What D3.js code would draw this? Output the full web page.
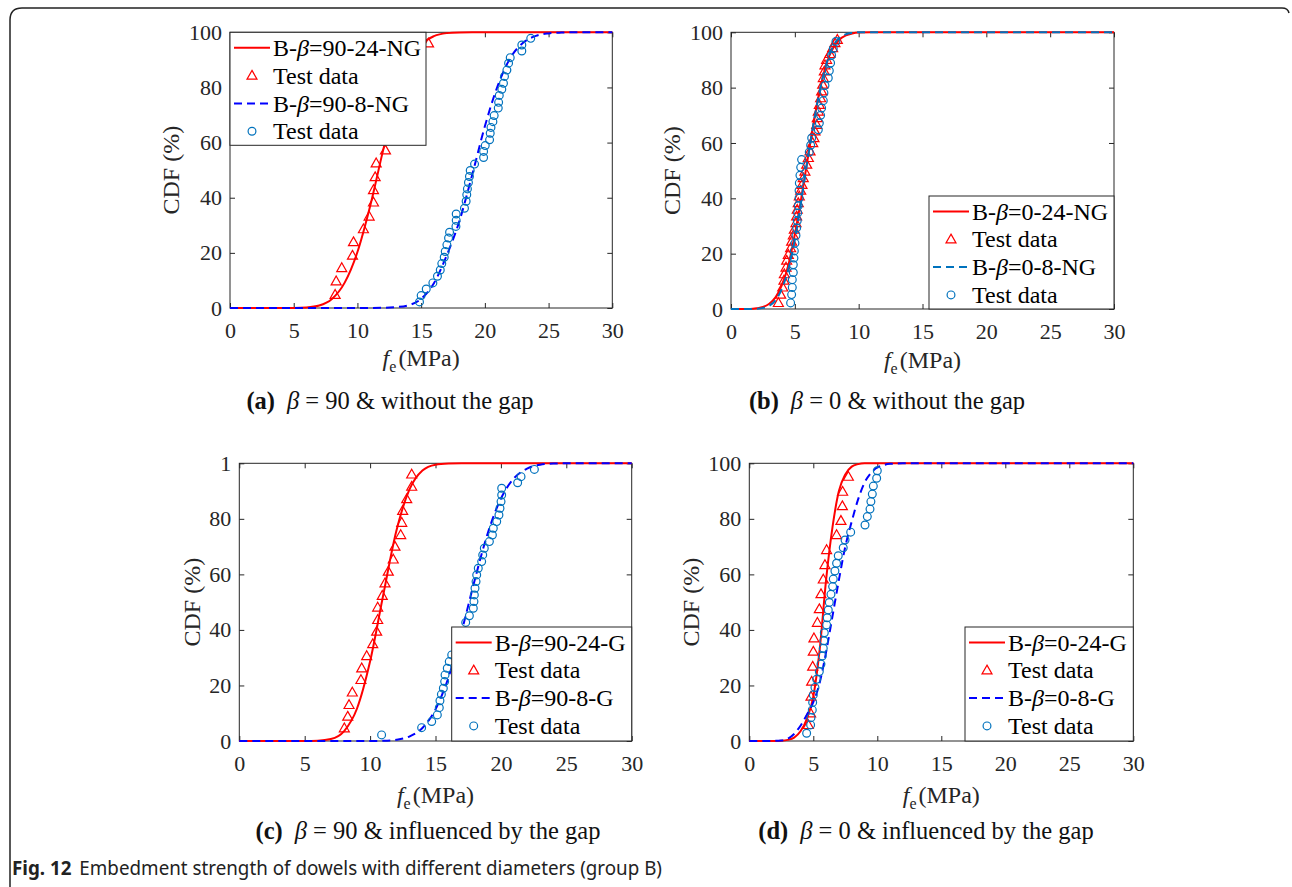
<!DOCTYPE html>
<html><head><meta charset="utf-8">
<script src="https://cdn.jsdelivr.net/npm/d3@7"></script>
<style>body{margin:0;background:#fff;} svg{display:block;}</style>
</head><body>
<script>
// ---------------- DATA ----------------
const xTicks = [0, 5, 10, 15, 20, 25, 30];
const yTicks = [0, 20, 40, 60, 80, 100];
const yTickLabels = ["0", "20", "40", "60", "80", "100"];
const yTickLabelsC = ["0", "20", "40", "60", "80", "1"];

// (a) beta = 90, no gap
const fitA24 = [[0,0],[5,0.03],[6,0.2],[7,0.9],[8,3.3],[9,9.2],[10,20.3],[11,37],[12,56.9],[13,75.3],[14,88.3],[15,95.5],[16,98.6],[17,99.7],[18,99.95],[19,100],[30,100]];
const fitA8 = [[0,0],[12,0.05],[13,0.3],[14,1.0],[15,3.3],[16,9],[17,19],[18,31.5],[19,48.2],[20,65.9],[21,80.5],[22,90.7],[23,96.2],[24,98.7],[25,99.6],[26,99.9],[27,100],[30,100]];
const testA24 = [[8.25,4.8],[8.33,9.7],[8.77,14.5],[9.61,19.0],[9.69,23.9],[10.47,28.6],[10.92,33.2],[11.26,38.3],[11.26,42.8],[11.39,47.5],[11.47,52.5],[12.2,57.2],[15.58,96.0]];
const testA8 = [[14.87,2.2],[15.0,4.5],[15.4,6.9],[15.92,9.1],[16.28,11.5],[16.5,13.8],[16.62,16.1],[16.81,18.4],[16.89,20.5],[17.02,22.9],[17.15,25.4],[17.23,27.5],[17.73,29.6],[17.75,31.8],[17.75,34.1],[18.4,36.2],[18.53,38.7],[18.58,41.1],[18.63,43.2],[18.71,45.5],[18.79,47.7],[18.85,49.9],[19.19,52.2],[19.9,54.6],[19.9,56.8],[20.03,58.9],[20.37,61.0],[20.42,63.4],[20.48,65.5],[20.63,67.6],[20.73,69.8],[21.05,72.5],[21.08,74.6],[21.13,77.1],[21.33,79.3],[21.46,81.5],[21.54,84.0],[21.73,86.3],[21.86,88.8],[21.99,90.8],[22.9,93.2],[22.9,95.4],[23.6,97.8]];

// (b) beta = 0, no gap
const fitB24 = [[0,0],[1.5,0.02],[2,0.25],[2.5,0.7],[3,1.9],[3.5,4.3],[4,8.8],[4.5,16],[5,27],[5.5,40],[6,54],[6.5,68],[7,80],[7.5,89],[8,94.3],[8.5,97.4],[9,98.9],[9.5,99.6],[10,99.9],[11,100],[30,100]];
const fitB8 = [[0,0],[1.5,0.01],[2,0.1],[2.5,0.4],[3,1.2],[3.5,3.2],[4,7.5],[4.5,14.5],[5,25],[5.5,39],[6,54],[6.5,68],[7,80],[7.5,89],[8,95],[8.5,98],[9,99.3],[9.5,99.8],[10,100],[30,100]];
const testB24 = [[3.71,2.2],[3.89,5.2],[4.05,7.8],[4.15,10.3],[4.18,12.6],[4.31,15.0],[4.36,17.5],[4.49,19.6],[4.67,22.0],[4.75,24.4],[4.88,26.6],[4.96,28.7],[5.09,31.1],[5.14,33.5],[5.19,35.9],[5.27,38.3],[5.35,40.7],[5.46,42.8],[5.56,44.9],[5.66,47.3],[5.79,49.7],[5.93,52.2],[6.06,54.6],[6.19,57.0],[6.4,60.0],[6.5,61.8],[6.58,64.2],[6.71,66.6],[6.76,69.0],[6.84,71.4],[6.92,73.8],[7.02,76.2],[7.1,78.7],[7.18,81.1],[7.23,83.5],[7.31,85.9],[7.36,88.1],[7.49,90.1],[7.75,92.2],[7.96,94.3],[8.14,96.1],[8.33,97.3]];
const testB8 = [[4.67,2.2],[4.75,5.2],[4.8,7.8],[4.8,10.6],[4.88,13.2],[4.88,16.0],[4.93,18.4],[4.96,21.0],[5.01,23.8],[5.09,26.6],[5.14,29.3],[5.19,31.9],[5.22,34.7],[5.27,37.3],[5.33,40.1],[5.33,42.8],[5.35,45.5],[5.4,48.3],[5.46,51.2],[5.53,54.0],[6.13,56.7],[6.24,59.2],[6.32,61.8],[6.84,64.8],[6.92,67.2],[7.02,70.0],[7.1,72.6],[7.23,75.3],[7.28,78.1],[7.36,80.8],[7.62,83.5],[7.7,86.1],[7.8,88.9],[7.88,91.7],[8.01,94.1],[8.22,96.7]];

// (c) beta = 90, with gap
const fitC24 = [[0,0],[5,0.01],[6,0.1],[7,0.7],[8,3.5],[9,11.7],[10,28.7],[11,52.5],[12,75.5],[13,90.5],[14,97.4],[15,99.5],[16,99.9],[17,100],[30,100]];
const fitC8 = [[0,0],[10,0.02],[11,0.1],[12,0.45],[13,1.6],[14,4.7],[15,11.4],[16,23.0],[17,39.5],[18,58.0],[19,74.9],[20,87.3],[21,94.6],[22,98.1],[23,99.5],[24,99.9],[25,100],[30,100]];
const testC24 = [[8.03,4.6],[8.29,8.8],[8.39,13.0],[8.64,17.5],[9.3,22.0],[9.36,26.2],[9.74,30.6],[10.2,34.9],[10.5,39.4],[10.58,43.6],[10.58,48.1],[10.93,52.3],[11.14,56.8],[11.39,61.0],[11.77,65.4],[11.9,70.0],[12.34,74.2],[12.42,78.6],[12.49,82.9],[12.8,87.1],[13.18,91.6],[13.18,96.0]];
const testC8 = [[10.88,2.2],[13.94,4.8],[14.71,7.0],[15.14,9.4],[15.29,12.0],[15.34,14.5],[15.45,16.8],[15.6,19.0],[15.7,21.4],[15.73,23.8],[15.9,26.2],[16.05,28.6],[16.24,31.0],[17.31,42.7],[17.59,45.1],[17.89,47.8],[17.94,50.2],[17.97,52.6],[18.02,55.0],[18.1,57.4],[18.15,59.8],[18.27,62.2],[18.53,64.6],[18.61,67.0],[18.73,69.4],[19.12,71.8],[19.35,74.2],[19.42,76.6],[19.68,79.0],[19.85,81.4],[19.93,83.8],[20.01,86.2],[20.06,88.6],[20.06,91.0],[21.28,93.0],[21.54,95.2],[22.56,97.8]];

// (d) beta = 0, with gap
const fitD24 = [[0,0],[2,0.02],[2.5,0.1],[3,0.4],[3.5,1.2],[4,3.5],[4.5,8],[5,16],[5.5,33],[6,58],[6.5,77],[7,90],[7.5,96],[8,98.8],[8.5,99.7],[9,100],[30,100]];
const fitD8 = [[0,0],[2,0.05],[2.5,0.2],[3,0.8],[3.5,2.5],[4,5.5],[4.5,9.5],[5,14],[5.5,21],[6,32],[6.5,45],[7,58],[7.5,70],[8,79],[8.5,87],[9,93],[9.5,96.5],[10,98.5],[10.5,99.4],[11,99.8],[12,100],[30,100]];
const testD24 = [[4.61,5.8],[4.79,10.0],[4.82,16.0],[4.87,21.4],[4.95,26.8],[5.0,32.2],[5.05,37.0],[5.32,42.6],[5.47,47.5],[5.6,52.9],[5.78,58.2],[5.91,63.4],[6.04,68.8],[6.82,74.2],[7.16,79.3],[7.27,84.6],[7.29,89.8],[7.74,95.2]];
const testD8 = [[4.48,2.8],[4.79,5.8],[4.82,8.4],[4.92,11.2],[4.95,13.9],[5.0,16.6],[5.13,19.3],[5.26,22.2],[5.47,25.0],[5.6,27.7],[5.7,30.6],[5.78,33.4],[5.83,36.1],[5.86,39.0],[6.04,41.8],[6.09,44.4],[6.17,47.2],[6.25,49.9],[6.38,52.8],[6.51,55.6],[6.56,58.3],[6.69,61.2],[6.82,64.0],[6.95,66.7],[7.34,69.6],[7.48,72.4],[7.92,75.2],[9.04,77.8],[9.22,80.8],[9.43,83.5],[9.5,86.2],[9.61,88.9],[9.69,91.8],[9.95,94.6],[10.0,97.3]];

const legendA = ["B-|β|=90-24-NG", "Test data", "B-|β|=90-8-NG", "Test data"];
const legendB = ["B-|β|=0-24-NG", "Test data", "B-|β|=0-8-NG", "Test data"];
const legendC = ["B-|β|=90-24-G", "Test data", "B-|β|=90-8-G", "Test data"];
const legendD = ["B-|β|=0-24-G", "Test data", "B-|β|=0-8-G", "Test data"];
const captionA = ["(a)", "β", " = 90 & without the gap"];
const captionB = ["(b)", "β", " = 0 & without the gap"];
const captionC = ["(c)", "β", " = 90 & influenced by the gap"];
const captionD = ["(d)", "β", " = 0 & influenced by the gap"];
const xTitle = ["f", "e", "(MPa)"];
const yTitle = "CDF (%)";
const figLabel = "Fig. 12";
const figText = "Embedment strength of dowels with different diameters (group B)";

// ---------------- STYLE / LAYOUT ----------------
const SERIF = "'Liberation Serif','Times New Roman',serif";
const AX = "#262626";
const RED = "#ff0000", BLUE = "#0000ff", MBLUE = "#0072BD";

const panels = [
  {left:230, right:612.3, top:32.3, bottom:308, fit1:fitA24, test1:testA24, fit2:fitA8, test2:testA8, dash2:BLUE, yl:yTickLabels,
   legend:legendA, lg:{x:230, y:32.3, w:196, h:113}, ytx:-58, xtY:366, cap:captionA, capX:390, capY:409},
  {left:731, right:1114, top:32.3, bottom:309, fit1:fitB24, test1:testB24, fit2:fitB8, test2:testB8, dash2:MBLUE, yl:yTickLabels,
   legend:legendB, lg:{x:929, y:196, w:185, h:113}, ytx:-58, xtY:368, cap:captionB, capX:887, capY:409},
  {left:239.3, right:631.7, top:463.3, bottom:741, fit1:fitC24, test1:testC24, fit2:fitC8, test2:testC8, dash2:BLUE, yl:yTickLabelsC,
   legend:legendC, lg:{x:451.7, y:627, w:180, h:114}, ytx:-47, xtY:803, cap:captionC, capX:428, capY:839},
  {left:749.3, right:1133.3, top:463.3, bottom:741, fit1:fitD24, test1:testD24, fit2:fitD8, test2:testD8, dash2:BLUE, yl:yTickLabels,
   legend:legendD, lg:{x:965, y:627, w:168.3, h:114}, ytx:-58, xtY:803, cap:captionD, capX:926, capY:839}
];

const svg = d3.select("body").append("svg").attr("width", 1292).attr("height", 887);
svg.append("rect").attr("width", 1292).attr("height", 887).attr("fill", "#fff");
// card frame
svg.append("path").attr("d", "M10,887 L10,20 Q10,8 22,8 L1282,8 Q1288,8 1289,13")
  .attr("fill", "none").attr("stroke", "#222").attr("stroke-width", 1.5);

const triPath = "M0,-5.2 L5,3.6 L-5,3.6 Z";

function drawPanel(c) {
  const x = d3.scaleLinear().domain([0, 30]).range([c.left, c.right]);
  const y = d3.scaleLinear().domain([0, 100]).range([c.bottom, c.top]);
  const g = svg.append("g");

  const styleAxis = sel => {
    sel.select(".domain").remove();
    sel.selectAll("line").attr("stroke", AX).attr("stroke-width", 1);
    sel.selectAll("text").attr("font-family", SERIF).attr("font-size", 22).attr("fill", AX);
  };
  g.append("g").attr("transform", `translate(0,${c.bottom})`)
    .call(d3.axisBottom(x).tickValues(xTicks).tickSizeInner(-5).tickSizeOuter(0).tickPadding(14)).call(styleAxis);
  g.append("g").attr("transform", `translate(0,${c.top})`)
    .call(d3.axisTop(x).tickValues(xTicks).tickSizeInner(-5).tickSizeOuter(0).tickFormat("")).call(styleAxis);
  g.append("g").attr("transform", `translate(${c.left},0)`)
    .call(d3.axisLeft(y).tickValues(yTicks).tickSizeInner(-5).tickSizeOuter(0).tickPadding(8)
      .tickFormat((d, i) => c.yl[i])).call(styleAxis);
  g.append("g").attr("transform", `translate(${c.right},0)`)
    .call(d3.axisRight(y).tickValues(yTicks).tickSizeInner(-5).tickSizeOuter(0).tickFormat("")).call(styleAxis);
  g.append("rect").attr("x", c.left).attr("y", c.top).attr("width", c.right - c.left).attr("height", c.bottom - c.top)
    .attr("fill", "none").attr("stroke", AX).attr("stroke-width", 1);

  const line = d3.line().x(d => x(d[0])).y(d => y(d[1])).curve(d3.curveMonotoneX);
  g.append("path").datum(c.fit1).attr("d", line).attr("fill", "none").attr("stroke", RED).attr("stroke-width", 2);
  g.selectAll(null).data(c.test1).enter().append("path").attr("d", triPath)
    .attr("transform", d => `translate(${x(d[0])},${y(d[1])})`)
    .attr("fill", "none").attr("stroke", RED).attr("stroke-width", 1.2);
  g.append("path").datum(c.fit2).attr("d", line).attr("fill", "none").attr("stroke", c.dash2)
    .attr("stroke-width", 2).attr("stroke-dasharray", "8,5");
  g.selectAll(null).data(c.test2).enter().append("circle")
    .attr("cx", d => x(d[0])).attr("cy", d => y(d[1])).attr("r", 3.9)
    .attr("fill", "none").attr("stroke", MBLUE).attr("stroke-width", 1.2);

  // axis titles
  const cx = (c.left + c.right) / 2, cy = (c.top + c.bottom) / 2;
  g.append("text").attr("transform", `translate(${c.left + c.ytx},${cy}) rotate(-90)`)
    .attr("text-anchor", "middle").attr("dy", "0.3em")
    .attr("font-family", SERIF).attr("font-size", 24).attr("fill", AX).text(yTitle);
  const xt = g.append("text").attr("x", cx).attr("y", c.xtY).attr("text-anchor", "middle")
    .attr("font-family", SERIF).attr("font-size", 24).attr("fill", AX);
  xt.append("tspan").attr("font-style", "italic").text(xTitle[0]);
  xt.append("tspan").attr("font-size", 16).attr("dy", 6).text(xTitle[1]);
  xt.append("tspan").attr("dy", -6).attr("dx", 2).text(xTitle[2]);

  // caption
  const cp = g.append("text").attr("x", c.capX).attr("y", c.capY).attr("text-anchor", "middle")
    .attr("font-family", SERIF).attr("font-size", 24.5).attr("fill", "#111");
  cp.append("tspan").attr("font-weight", "bold").text(c.cap[0]);
  cp.append("tspan").attr("font-style", "italic").attr("dx", 12).text(c.cap[1]);
  cp.append("tspan").text(c.cap[2]);

  // legend
  const L = c.lg;
  const lg = g.append("g");
  lg.append("rect").attr("x", L.x).attr("y", L.y).attr("width", L.w).attr("height", L.h)
    .attr("fill", "#fff").attr("stroke", AX).attr("stroke-width", 1);
  c.legend.forEach((lab, i) => {
    const ry = L.y + 15.5 + 27.8 * i;
    if (i === 0) {
      lg.append("line").attr("x1", L.x + 4).attr("x2", L.x + 40).attr("y1", ry).attr("y2", ry)
        .attr("stroke", RED).attr("stroke-width", 2);
    } else if (i === 1) {
      lg.append("path").attr("d", triPath).attr("transform", `translate(${L.x + 22},${ry})`)
        .attr("fill", "none").attr("stroke", RED).attr("stroke-width", 1.2);
    } else if (i === 2) {
      lg.append("line").attr("x1", L.x + 4).attr("x2", L.x + 40).attr("y1", ry).attr("y2", ry)
        .attr("stroke", c.dash2).attr("stroke-width", 2).attr("stroke-dasharray", "8,5");
    } else {
      lg.append("circle").attr("cx", L.x + 22).attr("cy", ry).attr("r", 3.9)
        .attr("fill", "none").attr("stroke", MBLUE).attr("stroke-width", 1.2);
    }
    const t = lg.append("text").attr("x", L.x + 43).attr("y", ry).attr("dy", "0.34em")
      .attr("font-family", SERIF).attr("font-size", 24).attr("fill", "#000");
    lab.split("|").forEach((p, k) => {
      const s = t.append("tspan").text(p);
      if (k % 2 === 1) s.attr("font-style", "italic");
    });
  });
}
panels.forEach(drawPanel);

// figure caption
const fc = svg.append("text").attr("x", 12).attr("y", 875)
  .attr("font-family", "'Noto Sans','DejaVu Sans',sans-serif").attr("font-size", 19).attr("fill", "#222")
  .attr("textLength", 650).attr("lengthAdjust", "spacingAndGlyphs");
fc.append("tspan").attr("font-weight", "bold").text(figLabel);
fc.append("tspan").attr("dx", 8).text(figText);
</script>
</body></html>
